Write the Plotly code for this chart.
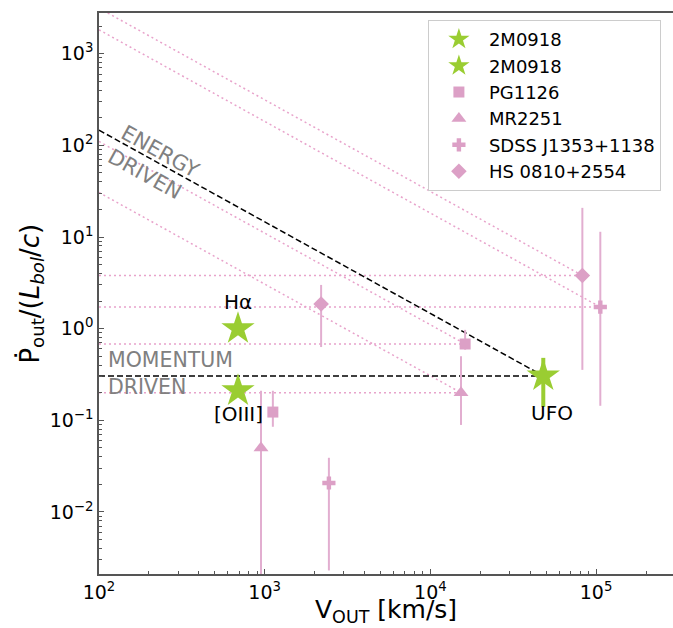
import numpy as np
import plotly.graph_objects as go

# ---------------- data ----------------
# 2M0918 ionised outflows (Halpha, [OIII]) and UFO
v_2m_opt = [690, 690]
p_2m_opt = [1.0, 0.21]
lab_2m_opt = ["Hα", "[OIII]"]
v_2m_ufo = [48000]
p_2m_ufo = [0.305]
p_2m_ufo_hi = [0.48]
p_2m_ufo_lo = [0.14]

# comparison sources: [low-velocity outflow, UFO]
v_pg = [1120, 16200]
p_pg = [0.123, 0.68]
p_pg_hi = [0.21, 0.97]
p_pg_lo = [0.085, 0.59]

v_mr = [950, 15300]
p_mr = [0.050, 0.20]
p_mr_hi = [0.21, 0.50]
p_mr_lo = [1e-4, 0.089]

v_sd = [2440, 106000]
p_sd = [0.0207, 1.72]
p_sd_hi = [0.039, 11.4]
p_sd_lo = [0.0023, 0.144]

v_hs = [2190, 82600]
p_hs = [1.86, 3.8]
p_hs_hi = [3.0, 20.8]
p_hs_lo = [0.63, 0.355]

v_min = 100
x_ticks = [1e2, 1e3, 1e4, 1e5]
x_ticktext = ["10<sup>2</sup>", "10<sup>3</sup>", "10<sup>4</sup>", "10<sup>5</sup>"]
y_ticks = [1e-2, 1e-1, 1e0, 1e1, 1e2, 1e3]
y_ticktext = ["10<sup>−2</sup>", "10<sup>−1</sup>", "10<sup>0</sup>",
              "10<sup>1</sup>", "10<sup>2</sup>", "10<sup>3</sup>"]

GREEN = "#9acd32"
PINK = "#dca0c6"
PINK_ERR = "#e2aed0"
PINK_LINE = "#e8a3cb"
GRAY = "#808080"
FONT = "DejaVu Sans"

fig = go.Figure()

# ---- energy / momentum conserving lines for comparison sources ----
for v, p in [(v_pg, p_pg), (v_mr, p_mr), (v_sd, p_sd), (v_hs, p_hs)]:
    vu, pu = v[1], p[1]
    fig.add_trace(go.Scatter(x=[v_min, vu], y=[pu, pu], mode="lines",
                             line=dict(color=PINK_LINE, width=1.5, dash="2px,3px"),
                             showlegend=False, hoverinfo="skip"))
    fig.add_trace(go.Scatter(x=[v_min, vu], y=[pu * vu / v_min, pu], mode="lines",
                             line=dict(color=PINK_LINE, width=1.5, dash="2px,3px"),
                             showlegend=False, hoverinfo="skip"))

# ---- 2M0918 lines ----
vu, pu = v_2m_ufo[0], p_2m_ufo[0]
fig.add_trace(go.Scatter(x=[v_min, vu], y=[pu, pu], mode="lines",
                         line=dict(color="black", width=1.5, dash="6px,3px"),
                         showlegend=False, hoverinfo="skip"))
fig.add_trace(go.Scatter(x=[v_min, vu], y=[pu * vu / v_min, pu], mode="lines",
                         line=dict(color="black", width=1.5, dash="6px,3px"),
                         showlegend=False, hoverinfo="skip"))


def err(p, hi, lo):
    return dict(type="data", symmetric=False,
                array=[h - q for h, q in zip(hi, p)],
                arrayminus=[q - l for q, l in zip(p, lo)],
                color=PINK_ERR, thickness=2, width=0)


sources = [
    ("PG1126", v_pg, p_pg, p_pg_hi, p_pg_lo, "square", 11),
    ("MR2251", v_mr, p_mr, p_mr_hi, p_mr_lo, "triangle-up", 13),
    ("SDSS J1353+1138", v_sd, p_sd, p_sd_hi, p_sd_lo, "cross", 11),
    ("HS 0810+2554", v_hs, p_hs, p_hs_hi, p_hs_lo, "diamond", 12),
]

# 2M0918 stars
fig.add_trace(go.Scatter(x=v_2m_opt, y=p_2m_opt, mode="markers", name="2M0918",
                         marker=dict(symbol="star", size=25, color=GREEN,
                                     line=dict(width=0))))
fig.add_trace(go.Scatter(x=v_2m_ufo, y=p_2m_ufo, mode="markers", name="2M0918",
                         marker=dict(symbol="star", size=25, color=GREEN,
                                     line=dict(width=0)),
                         error_y=dict(type="data", symmetric=False,
                                      array=[p_2m_ufo_hi[0] - p_2m_ufo[0]],
                                      arrayminus=[p_2m_ufo[0] - p_2m_ufo_lo[0]],
                                      color=GREEN, thickness=4, width=0)))

for name, v, p, hi, lo, sym, sz in sources:
    fig.add_trace(go.Scatter(x=v, y=p, mode="markers", name=name,
                             marker=dict(symbol=sym, size=sz, color=PINK,
                                         line=dict(width=0)),
                             error_y=err(p, hi, lo)))

annotations = []
# text labels
annotations.append(dict(x=np.log10(v_2m_opt[0]), y=np.log10(p_2m_opt[0]), text=lab_2m_opt[0],
                        showarrow=False, yshift=27, font=dict(size=20, color="black", family=FONT)))
annotations.append(dict(x=np.log10(v_2m_opt[1]), y=np.log10(p_2m_opt[1]), text=lab_2m_opt[1],
                        showarrow=False, yshift=-23, font=dict(size=20, color="black", family=FONT)))
annotations.append(dict(x=np.log10(v_2m_ufo[0]), y=np.log10(p_2m_ufo[0]), text="UFO",
                        showarrow=False, yshift=-37, xshift=9,
                        font=dict(size=20, color="black", family=FONT)))
annotations.append(dict(x=2.33, y=1.80, text="ENERGY<br>DRIVEN", showarrow=False,
                        textangle=29, align="left",
                        font=dict(size=21, color=GRAY, family=FONT)))
annotations.append(dict(x=2.045, y=-0.49, text="MOMENTUM<br>DRIVEN", showarrow=False,
                        xanchor="left", align="left",
                        font=dict(size=20.5, color=GRAY, family=FONT)))
# axis titles
annotations.append(dict(xref="paper", yref="paper", x=-0.12, y=0.5,
                        text="Ṗ<sub>out</sub>/(<i>L<sub>bol</sub></i>/<i>c</i>)",
                        textangle=-90, showarrow=False, xanchor="center", yanchor="middle",
                        font=dict(size=26, color="black", family=FONT)))
annotations.append(dict(xref="paper", yref="paper", x=0.5, y=-0.066,
                        text="V<sub>OUT</sub> [km/s]", showarrow=False,
                        xanchor="center", yanchor="middle",
                        font=dict(size=25, color="black", family=FONT)))

x_minor = [m * 10 ** d for d in range(2, 6) for m in range(2, 10)]
y_minor = [m * 10 ** d for d in range(-3, 4) for m in range(2, 10)]

axis_common = dict(type="log", showgrid=False, zeroline=False, showline=True,
                   linecolor="#555555", linewidth=1.5,
                   ticks="inside", ticklen=5, tickwidth=1, tickcolor="#555555",
                   tickmode="array",
                   tickfont=dict(size=19, color="black", family=FONT))

fig.update_layout(
    width=673, height=628,
    margin=dict(l=99, r=0, t=13, b=54),
    paper_bgcolor="white", plot_bgcolor="white",
    font=dict(family=FONT),
    xaxis=dict(axis_common, mirror=True, range=[2, 5.464], tickvals=x_ticks, ticktext=x_ticktext,
               minor=dict(tickmode="array", tickvals=x_minor, ticks="inside",
                          ticklen=3, tickcolor="#555555")),
    yaxis=dict(axis_common, mirror=False, range=[-2.677, 3.444], tickvals=y_ticks, ticktext=y_ticktext,
               minor=dict(tickmode="array", tickvals=y_minor, ticks="inside",
                          ticklen=3, tickcolor="#555555")),
    legend=dict(x=0.573, y=0.9875, xanchor="left", yanchor="top",
                bgcolor="white", bordercolor="#cccccc", borderwidth=1,
                itemwidth=50,
                font=dict(size=18, color="black", family=FONT)),
    annotations=annotations,
    showlegend=True,
)

fig.write_html("out.html")
